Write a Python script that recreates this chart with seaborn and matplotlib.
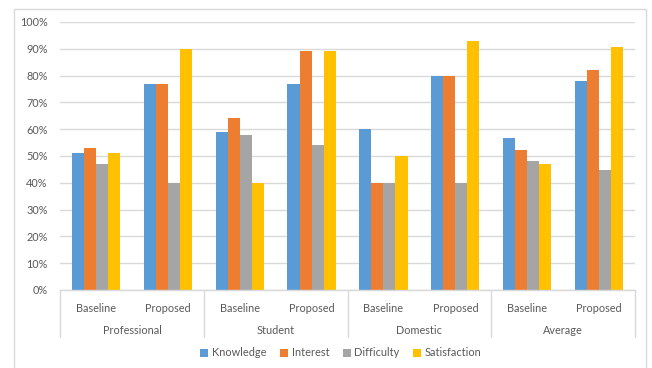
import matplotlib
matplotlib.use("Agg")
import matplotlib.pyplot as plt
import matplotlib.transforms as mtransforms
from matplotlib.patches import Rectangle
from matplotlib.ticker import PercentFormatter, MultipleLocator
import seaborn as sns
import pandas as pd

groups = ["Professional", "Student", "Domestic", "Average"]
conditions = ["Baseline", "Proposed"]
metrics = ["Knowledge", "Interest", "Difficulty", "Satisfaction"]

# values per (group, condition) in order: Prof-B, Prof-P, Stu-B, Stu-P, Dom-B, Dom-P, Avg-B, Avg-P
knowledge = [51, 77, 59, 77, 60, 80, 56.7, 78]
interest = [53, 77, 64, 89, 40, 80, 52.3, 82]
difficulty = [47, 40, 58, 54, 40, 40, 48.3, 44.7]
satisfaction = [51, 90, 40, 89, 50, 93, 47, 90.7]

colors = ["#5B9BD5", "#ED7D31", "#A5A5A5", "#FFC000"]

series = {"Knowledge": knowledge, "Interest": interest,
          "Difficulty": difficulty, "Satisfaction": satisfaction}
keys = [f"{g}|{c}" for g in groups for c in conditions]
rows = []
for m in metrics:
    for k, v in zip(keys, series[m]):
        rows.append({"key": k, "metric": m, "value": v / 100.0})
df = pd.DataFrame(rows)

sns.set_style("white")
plt.rcParams["font.family"] = ["Lato", "DejaVu Sans"]

W, H = 652, 368
fig = plt.figure(figsize=(W / 100, H / 100), dpi=100)
ax = fig.add_axes([60 / W, 1 - 290 / H, (635 - 60) / W, (290 - 22) / H])

sns.barplot(data=df, x="key", y="value", hue="metric", order=keys,
            hue_order=metrics, palette=colors, width=0.67, ax=ax,
            saturation=1, edgecolor="none", linewidth=0, errorbar=None)

ax.set_ylim(0, 1.0)
ax.set_xlim(-0.5, len(keys) - 0.5)
ax.yaxis.set_major_locator(MultipleLocator(0.1))
ax.yaxis.set_major_formatter(PercentFormatter(1.0, decimals=0))
ax.grid(axis="y", color="#D9D9D9", linewidth=1.0)
ax.set_axisbelow(True)
for s in ["top", "right", "left"]:
    ax.spines[s].set_visible(False)
ax.spines["bottom"].set_color("#D9D9D9")
ax.spines["bottom"].set_linewidth(1.0)
ax.set_xlabel("")
ax.set_ylabel("")
ax.tick_params(axis="y", length=0, pad=9, labelsize=7.8, labelcolor="#595959")
ax.tick_params(axis="x", length=0, pad=9, labelsize=7.8, labelcolor="#595959")
ax.set_xticks(range(len(keys)))
ax.set_xticklabels([k.split("|")[1] for k in keys])

# group labels and separators
trans = mtransforms.blended_transform_factory(ax.transData, ax.transAxes)
axh = (290 - 22)
for i, g in enumerate(groups):
    ax.text(2 * i + 0.5, -40 / axh, g, transform=trans, ha="center", va="center",
            fontsize=7.8, color="#595959")
for b in range(len(groups) + 1):
    xb = 2 * b - 0.5
    ax.plot([xb, xb], [0, -47 / axh], transform=trans, color="#D9D9D9",
            linewidth=1.0, clip_on=False)

handles, labels = ax.get_legend_handles_labels()
if ax.legend_ is not None:
    ax.legend_.remove()
fig.legend(handles, labels, loc="center", bbox_to_anchor=(341 / W, 1 - 353 / H),
           ncol=4, frameon=False, fontsize=7.9, handlelength=0.7, handleheight=0.7,
           handletextpad=0.35, columnspacing=1.25, labelcolor="#595959")

# outer chart border
fig.patches.append(Rectangle((14 / W, -0.01), (646 - 14) / W, 1 - 9 / H + 0.01,
                             transform=fig.transFigure, fill=False,
                             edgecolor="#D9D9D9", linewidth=1.0))

fig.savefig("out.png", dpi=100)
